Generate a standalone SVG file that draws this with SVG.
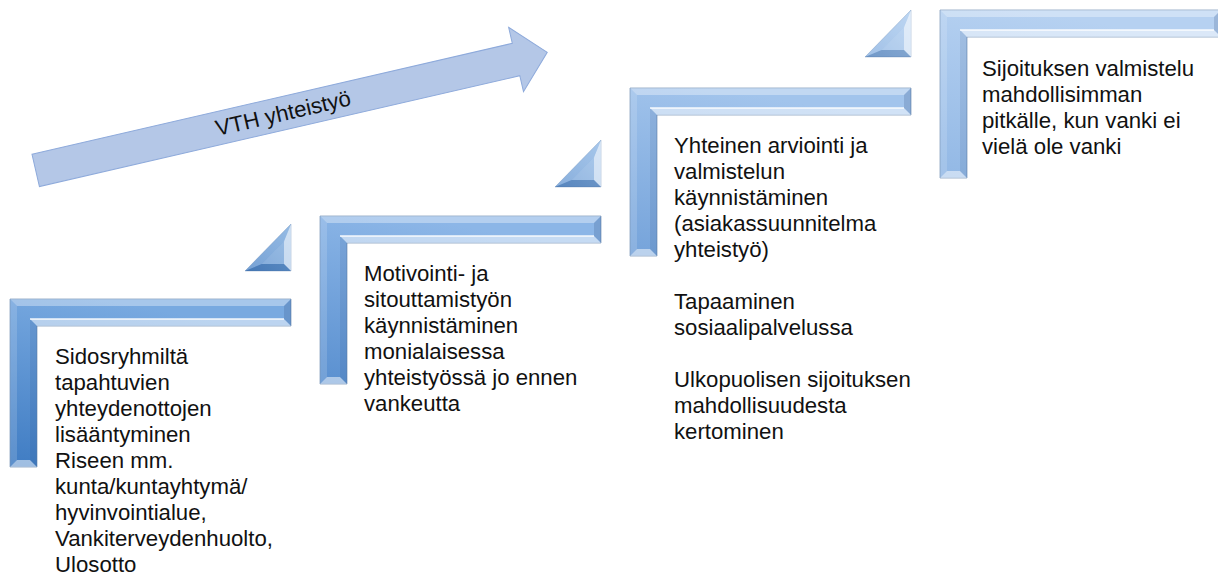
<svg xmlns="http://www.w3.org/2000/svg" xmlns:xlink="http://www.w3.org/1999/xlink" width="1218" height="575" viewBox="0 0 1218 575">
<style>
  .txt { font-family: "Liberation Sans", Arial, sans-serif; font-size: 22.2px; fill: #111; }
  .edge { stroke: #5f7fa8; stroke-opacity: 0.6; stroke-width: 1; }
  .hlW { fill: #fff; }
  .shD { fill: #1f3f6f; }
</style>
<defs>
  <linearGradient id="g1" x1="0.3" y1="0" x2="0" y2="1"><stop offset="0" stop-color="#78a9e0"/><stop offset="1" stop-color="#3f7cc3"/></linearGradient>
  <linearGradient id="g2" x1="0.3" y1="0" x2="0" y2="1"><stop offset="0" stop-color="#8cb6e7"/><stop offset="1" stop-color="#5a90d0"/></linearGradient>
  <linearGradient id="g3" x1="0.3" y1="0" x2="0" y2="1"><stop offset="0" stop-color="#a2c4ec"/><stop offset="1" stop-color="#75a3da"/></linearGradient>
  <linearGradient id="g4" x1="0.3" y1="0" x2="0" y2="1"><stop offset="0" stop-color="#b6d1f1"/><stop offset="1" stop-color="#92b8e5"/></linearGradient>
  <linearGradient id="t1" x1="0" y1="1" x2="1" y2="0"><stop offset="0" stop-color="#4f86c8"/><stop offset="1" stop-color="#78a9de"/></linearGradient>
  <linearGradient id="t2" x1="0" y1="1" x2="1" y2="0"><stop offset="0" stop-color="#6697d2"/><stop offset="1" stop-color="#8fb8e6"/></linearGradient>
  <linearGradient id="t3" x1="0" y1="1" x2="1" y2="0"><stop offset="0" stop-color="#86afe0"/><stop offset="1" stop-color="#abcbef"/></linearGradient>
  <g id="frame">
    <polygon class="edge" points="0,0 281,0 281,27 27,27 27,168 0,168"/>
    <polygon class="hlW" fill-opacity="0.35" points="0,0 281,0 274,7 7,7"/>
    <polygon class="hlW" fill-opacity="0.15" points="0,0 7,7 7,161 0,168"/>
    <polygon class="shD" fill-opacity="0.18" points="281,0 281,27 274,20 274,7"/>
    <polygon class="hlW" fill-opacity="0.5" points="0,168 27,168 20,161 7,161"/>
    <polygon class="hlW" fill-opacity="0.5" points="27,27 281,27 274,20 20,20"/>
    <polygon class="shD" fill-opacity="0.1" points="27,27 27,168 20,161 20,20"/>
    <line x1="20" y1="20" x2="274" y2="20" stroke="#fff" stroke-opacity="0.9" stroke-width="1.5"/>
  </g>
  <g id="tri">
    <polygon points="-46,0 0,-47 0,0" stroke="#4d76a8" stroke-opacity="0.4" stroke-width="0.8"/>
    <polygon class="hlW" fill-opacity="0.22" points="-46,0 0,-47 -7,-29.84 -29.35,-7"/>
    <polygon class="hlW" fill-opacity="0.65" points="0,-47 0,0 -7,-7 -7,-29.84"/>
    <polygon class="shD" fill-opacity="0.2" points="0,0 -46,0 -29.35,-7 -7,-7"/>
    <polygon class="hlW" fill-opacity="0.28" points="-29.35,-7 -7,-29.84 -7,-7"/>
  </g>
</defs>

<g id="vth-arrow">
  <polygon points="0,-16.6 493,-16.6 493,-33 525,0 493,33 493,16.6 0,16.6" transform="translate(35.7,170.4) rotate(-13)" fill="#b4c7e7" stroke="#8eaadb" stroke-width="1"/>
  <text class="txt" transform="translate(35.7,170.4) rotate(-13)" x="254" y="0" text-anchor="middle" dominant-baseline="central">VTH yhteistyö</text>
</g>

<g id="connectors"></g>

<g id="triangle-1"><use xlink:href="#tri" href="#tri" transform="translate(291,271)" fill="url(#t1)"/></g>
<g id="triangle-2"><use xlink:href="#tri" href="#tri" transform="translate(601,187)" fill="url(#t2)"/></g>
<g id="triangle-3"><use xlink:href="#tri" href="#tri" transform="translate(911,57)" fill="url(#t3)"/></g>

<g id="step-1">
  <use xlink:href="#frame" href="#frame" transform="translate(10,299)" fill="url(#g1)"/>
  <text class="txt">
    <tspan x="55" y="364">Sidosryhmiltä</tspan>
    <tspan x="55" y="390">tapahtuvien</tspan>
    <tspan x="55" y="416">yhteydenottojen</tspan>
    <tspan x="55" y="442">lisääntyminen</tspan>
    <tspan x="55" y="468">Riseen mm.</tspan>
    <tspan x="55" y="494">kunta/kuntayhtymä/</tspan>
    <tspan x="55" y="520">hyvinvointialue,</tspan>
    <tspan x="55" y="546">Vankiterveydenhuolto,</tspan>
    <tspan x="55" y="572">Ulosotto</tspan>
  </text>
</g>

<g id="step-2">
  <use xlink:href="#frame" href="#frame" transform="translate(320,216)" fill="url(#g2)"/>
  <text class="txt">
    <tspan x="364" y="281">Motivointi- ja</tspan>
    <tspan x="364" y="307">sitouttamistyön</tspan>
    <tspan x="364" y="333">käynnistäminen</tspan>
    <tspan x="364" y="359">monialaisessa</tspan>
    <tspan x="364" y="385">yhteistyössä jo ennen</tspan>
    <tspan x="364" y="411">vankeutta</tspan>
  </text>
</g>

<g id="step-3">
  <use xlink:href="#frame" href="#frame" transform="translate(630,88)" fill="url(#g3)"/>
  <text class="txt">
    <tspan x="674" y="153">Yhteinen arviointi ja</tspan>
    <tspan x="674" y="179">valmistelun</tspan>
    <tspan x="674" y="205">käynnistäminen</tspan>
    <tspan x="674" y="231">(asiakassuunnitelma</tspan>
    <tspan x="674" y="257">yhteistyö)</tspan>
    <tspan x="674" y="309">Tapaaminen</tspan>
    <tspan x="674" y="335">sosiaalipalvelussa</tspan>
    <tspan x="674" y="387">Ulkopuolisen sijoituksen</tspan>
    <tspan x="674" y="413">mahdollisuudesta</tspan>
    <tspan x="674" y="439">kertominen</tspan>
  </text>
</g>

<g id="step-4">
  <use xlink:href="#frame" href="#frame" transform="translate(940,10)" fill="url(#g4)"/>
  <text class="txt">
    <tspan x="982" y="76">Sijoituksen valmistelu</tspan>
    <tspan x="982" y="102">mahdollisimman</tspan>
    <tspan x="982" y="128">pitkälle, kun vanki ei</tspan>
    <tspan x="982" y="154">vielä ole vanki</tspan>
  </text>
</g>
</svg>
